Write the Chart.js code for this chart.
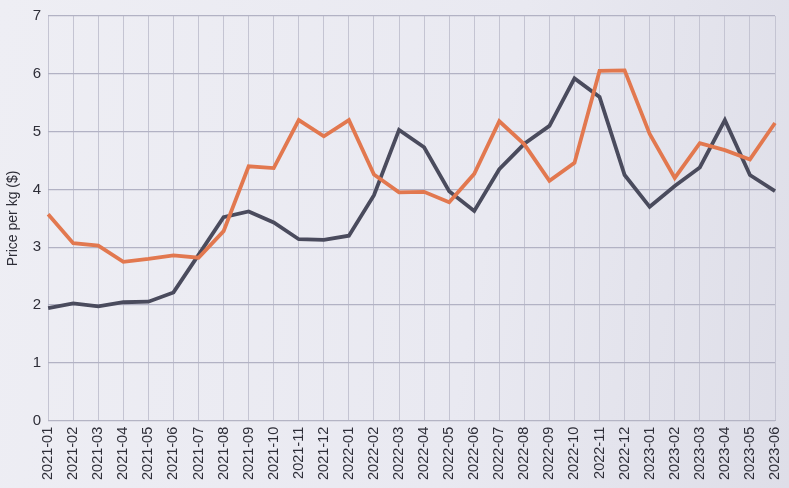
<!DOCTYPE html>
<html>
<head>
<meta charset="utf-8">
<script src="https://cdn.jsdelivr.net/npm/chart.js@4/dist/chart.umd.min.js"></script>
<style>
  html, body { margin: 0; padding: 0; }
  body { width: 789px; height: 488px; background: linear-gradient(100deg, #eeeef4 0%, #e9e9f1 60%, #dedee8 100%); }
  #wrap { width: 789px; height: 488px; }
</style>
</head>
<body>
<div id="wrap"><canvas id="chartCanvas"></canvas></div>
<script>
const months = [
  "2021-01", "2021-02", "2021-03", "2021-04", "2021-05", "2021-06",
  "2021-07", "2021-08", "2021-09", "2021-10", "2021-11", "2021-12",
  "2022-01", "2022-02", "2022-03", "2022-04", "2022-05", "2022-06",
  "2022-07", "2022-08", "2022-09", "2022-10", "2022-11", "2022-12",
  "2023-01", "2023-02", "2023-03", "2023-04", "2023-05", "2023-06"
];

// orange series
const orangePrice = [
  3.57, 3.07, 3.03, 2.75, 2.80, 2.86, 2.82, 3.28, 4.40, 4.37, 5.20, 4.92,
  5.20, 4.26, 3.95, 3.96, 3.78, 4.27, 5.18, 4.78, 4.15, 4.46, 6.05, 6.06,
  4.96, 4.20, 4.80, 4.68, 4.52, 5.15
];

// dark series
const darkPrice = [
  1.95, 2.03, 1.98, 2.05, 2.06, 2.22, 2.87, 3.52, 3.62, 3.43, 3.14, 3.13,
  3.20, 3.90, 5.03, 4.73, 3.97, 3.63, 4.35, 4.79, 5.10, 5.92, 5.60, 4.25,
  3.70, 4.06, 4.38, 5.20, 4.25, 3.97
];

const yTicks = [0, 1, 2, 3, 4, 5, 6, 7];

const ctx = document.getElementById("chartCanvas").getContext("2d");

new Chart(ctx, {
  type: "line",
  data: {
    labels: months,
    datasets: [
      {
        label: "Orange",
        data: orangePrice,
        borderColor: "#e2784f",
        borderWidth: 3.8,
        pointRadius: 0,
        tension: 0,
        fill: false
      },
      {
        label: "Dark",
        data: darkPrice,
        borderColor: "#4a4b5d",
        borderWidth: 3.8,
        pointRadius: 0,
        tension: 0,
        fill: false
      }
    ]
  },
  options: {
    responsive: true,
    maintainAspectRatio: false,
    animation: false,
    layout: { padding: { top: 0, right: 0, left: 5, bottom: 2 } },
    plugins: {
      legend: { display: false },
      tooltip: { enabled: false }
    },
    scales: {
      x: {
        offset: false,
        afterFit: axis => { axis.paddingRight = 14; },
        grid: { color: "#c4c4d2", lineWidth: 1, drawTicks: false },
        border: { color: "#b4b4c4" },
        ticks: {
          color: "#2e2e38",
          font: { family: "Liberation Sans", size: 14.5 },
          minRotation: 90,
          maxRotation: 90,
          autoSkip: false,
          padding: 6
        }
      },
      y: {
        min: 0,
        max: 7,
        afterBuildTicks: axis => { axis.ticks = yTicks.map(v => ({ value: v })); },
        grid: { color: "#b2b2c4", lineWidth: 1.3, drawTicks: false },
        border: { display: false },
        ticks: {
          color: "#2e2e38",
          font: { family: "Liberation Sans", size: 15 },
          padding: 7
        },
        title: {
          display: true,
          text: "Price per kg ($)",
          color: "#2e2e38",
          font: { family: "Liberation Sans", size: 14 },
          padding: { top: 0, bottom: 4 }
        }
      }
    }
  }
});
</script>
</body>
</html>
